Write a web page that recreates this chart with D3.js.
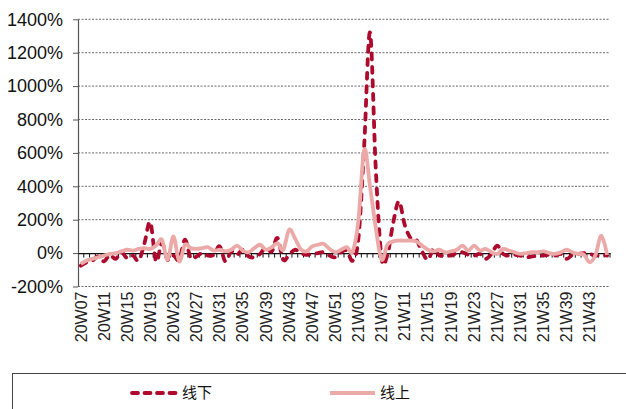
<!DOCTYPE html>
<html>
<head>
<meta charset="utf-8">
<script src="https://cdn.jsdelivr.net/npm/d3@7"></script>
<style>
  html, body { margin: 0; padding: 0; background: #fff; }
  svg { display: block; }
</style>
</head>
<body>
<div id="chart"></div>
<script>
// Veckor (kategorier)
const weeks = [
  "20W07","20W08","20W09","20W10","20W11","20W12","20W13","20W14","20W15","20W16",
  "20W17","20W18","20W19","20W20","20W21","20W22","20W23","20W24","20W25","20W26",
  "20W27","20W28","20W29","20W30","20W31","20W32","20W33","20W34","20W35","20W36",
  "20W37","20W38","20W39","20W40","20W41","20W42","20W43","20W44","20W45","20W46",
  "20W47","20W48","20W49","20W50","20W51","20W52",
  "21W01","21W02","21W03","21W04","21W05","21W06","21W07","21W08","21W09","21W10",
  "21W11","21W12","21W13","21W14","21W15","21W16","21W17","21W18","21W19","21W20",
  "21W21","21W22","21W23","21W24","21W25","21W26","21W27","21W28","21W29","21W30",
  "21W31","21W32","21W33","21W34","21W35","21W36","21W37","21W38","21W39","21W40",
  "21W41","21W42","21W43","21W44","21W45","21W46"
];

// 线下 (procent)
const offline = [
  -75, -55, -45, -20, -50, -10, -35, 5, -30, -15,
  -45, 60, 185, -50, 60, -40, -15, -40, 80, -30,
  -20, 0, -15, -10, 40, -50, 10, -10, 20, -20,
  -25, -5, 35, 10, 90, -40, -10, 20, 0, -10,
  -5, 0, 5, -15, -25, 5,
  15, -45, 90, 650, 1320, 500, -30, -10, 180, 310,
  170, 90, 80, 10, -40, 25, -15, -10, -15, 0,
  5, -10, -15, -5, -35, -5, 45, -5, -15, -10,
  -15, -25, -20, -15, -15, -10, -15, -5, -35, -10,
  -5, 0, -5, -15, -10, -15
];

// 线上 (procent)
const online = [
  -65, -45, -35, -25, -15, -5, 0, 10, 20, 15,
  25, 30, 25, 45, 80, -40, 100, -50, 50, 30,
  25, 30, 35, 15, 20, 10, 20, 45, 15, 5,
  30, 50, 20, 35, 60, 20, 140, 90, 25, 10,
  40, 50, 55, 25, 5, 20,
  35, 10, 200, 620, 400, 150, -40, 50, 70, 75,
  75, 75, 70, 45, 20, 10, 20, 5, 10, 20,
  45, 15, 45, 15, 25, 5, -5, 25, 15, 5,
  -5, 0, 5, 5, 10, 0, -5, 5, 20, 5,
  -5, -10, -55, -10, 105, -10
];

const yTicks = [-200, 0, 200, 400, 600, 800, 1000, 1200, 1400];
const seriesNames = ["线下", "线上"];

const width = 626, height = 409;
const plot = { left: 78, right: 610, top: 19.3, bottom: 286.5 };
const red = "#ad0a2d", pink = "#eba9a8";

const svg = d3.select("#chart").append("svg")
  .attr("width", width)
  .attr("height", height);

// Skalor
const x = d3.scaleBand()
  .domain(weeks)
  .range([plot.left, plot.right]);

const y = d3.scaleLinear()
  .domain([-200, 1400])
  .range([plot.bottom, plot.top]);

const cx = d => x(d) + x.bandwidth() / 2;

// Stödlinjer (streckade)
svg.append("g")
  .selectAll("line")
  .data(yTicks.filter(t => t !== 0))
  .join("line")
  .attr("x1", plot.left)
  .attr("x2", plot.right)
  .attr("y1", d => y(d))
  .attr("y2", d => y(d))
  .attr("stroke", "#444")
  .attr("stroke-width", 0.8)
  .attr("stroke-dasharray", "2,1.5");

// Y-axel
const yAxis = svg.append("g")
  .attr("transform", `translate(${plot.left},0)`)
  .call(d3.axisLeft(y).tickValues(yTicks).tickSize(5).tickSizeOuter(0).tickFormat(d => d + "%"));
yAxis.select(".domain").attr("stroke", "#555").attr("stroke-width", 1.2);
yAxis.selectAll(".tick line").attr("stroke", "#555");
yAxis.selectAll(".tick text")
  .attr("x", -15)
  .style("font-family", "Arial, 'Liberation Sans', sans-serif")
  .style("font-size", "18px")
  .attr("fill", "#111");

// X-axel vid 0%
const xAxis = svg.append("g")
  .attr("transform", `translate(0,${y(0)})`)
  .call(d3.axisBottom(x).tickSize(0).tickFormat(""));
xAxis.select(".domain").attr("stroke", "#111").attr("stroke-width", 1.2);

// Skalstreck vid varje kategori-gräns
svg.append("g")
  .selectAll("line")
  .data(weeks)
  .join("line")
  .attr("x1", d => x(d) + x.bandwidth())
  .attr("x2", d => x(d) + x.bandwidth())
  .attr("y1", y(0))
  .attr("y2", y(0) + 4.5)
  .attr("stroke", "#111")
  .attr("stroke-width", 1);

// Kategorietiketter (var fjärde vecka)
svg.append("g")
  .selectAll("text")
  .data(weeks.filter((d, i) => i % 4 === 0))
  .join("text")
  .attr("transform", d => `translate(${cx(d)},${plot.bottom + 5}) rotate(-90)`)
  .attr("text-anchor", "end")
  .attr("dy", "0.35em")
  .style("font-family", "Arial, 'Liberation Sans', sans-serif")
  .style("font-size", "16px")
  .attr("fill", "#222")
  .text(d => d);

// Linjer
const line = d3.line()
  .x((d, i) => cx(weeks[i]))
  .y(d => y(d))
  .curve(d3.curveCatmullRom.alpha(0));

svg.append("path")
  .datum(offline)
  .attr("d", line)
  .attr("fill", "none")
  .attr("stroke", red)
  .attr("stroke-width", 3.8)
  .attr("stroke-linecap", "round")
  .attr("stroke-dasharray", "6,7.5");

svg.append("path")
  .datum(online)
  .attr("d", line)
  .attr("fill", "none")
  .attr("stroke", pink)
  .attr("stroke-width", 3.8)
  .attr("stroke-linejoin", "round");

// Legend
svg.append("rect")
  .attr("x", 12.5)
  .attr("y", 373.5)
  .attr("width", 640)
  .attr("height", 60)
  .attr("fill", "none")
  .attr("stroke", "#444")
  .attr("stroke-width", 1);

const legend = [
  { name: seriesNames[0], color: red, dash: "6,6.5", x: 132 },
  { name: seriesNames[1], color: pink, dash: null, x: 330 }
];

legend.forEach(l => {
  svg.append("line")
    .attr("x1", l.x)
    .attr("x2", l.x + 45)
    .attr("y1", 393)
    .attr("y2", 393)
    .attr("stroke", l.color)
    .attr("stroke-width", 3.8)
    .attr("stroke-linecap", l.dash ? "round" : "butt")
    .attr("stroke-dasharray", l.dash);

  svg.append("text")
    .attr("x", l.x + 50)
    .attr("y", 393)
    .attr("dy", "0.35em")
    .style("font-family", "'Noto Sans CJK SC', sans-serif")
    .style("font-size", "15px")
    .attr("fill", "#111")
    .text(l.name);
});
</script>
</body>
</html>
